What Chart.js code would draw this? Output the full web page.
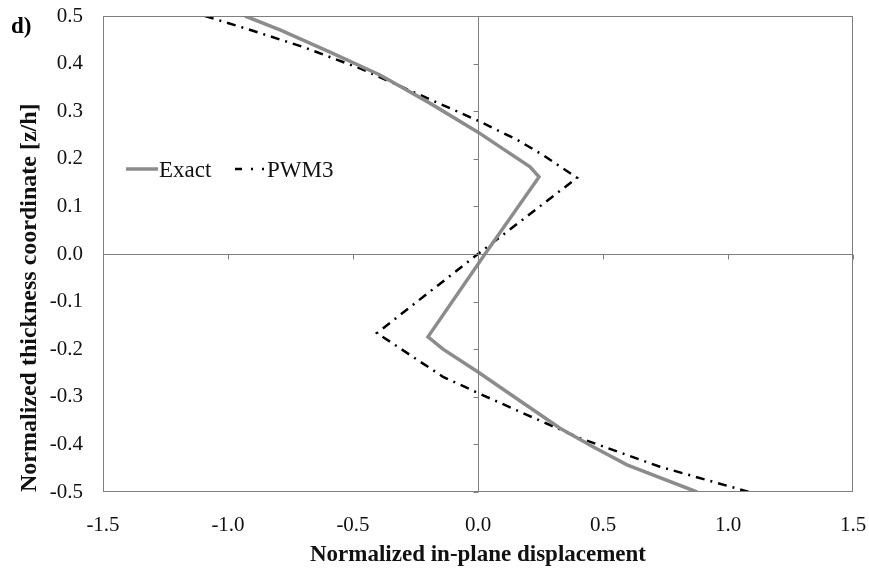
<!DOCTYPE html>
<html>
<head>
<meta charset="utf-8">
<script src="https://cdn.jsdelivr.net/npm/chart.js@4.4.0/dist/chart.umd.min.js"></script>
<style>
  body { margin: 0; background: #fff; }
  #wrap { width: 869px; height: 570px; }
</style>
</head>
<body>
<div id="wrap"><canvas id="chart" width="869" height="570"></canvas></div>
<script>
// values (x = displacement, y = z/h)
var exactX = [-0.932, -0.792, -0.592, -0.392, -0.196, 0.0, 0.088, 0.208, 0.244, 0.028, -0.2, -0.14, 0.0, 0.15, 0.328, 0.46, 0.596, 0.876];
var exactY = [0.5, 0.471, 0.424, 0.376, 0.318, 0.256, 0.225, 0.183, 0.162, 0.0, -0.174, -0.2, -0.248, -0.302, -0.366, -0.405, -0.443, -0.5];

var pwmX = [-1.092, -0.924, -0.70, -0.472, -0.24, 0.0, 0.156, 0.26, 0.396, 0.0, -0.404, -0.14, 0.0, 0.2, 0.408, 0.728, 1.085];
var pwmY = [0.5, 0.473, 0.435, 0.39, 0.336, 0.28, 0.24, 0.208, 0.16, 0.0, -0.166, -0.258, -0.292, -0.339, -0.387, -0.447, -0.5];

var seriesNames = ['Exact', 'PWM3'];
var xTicks = [-1.5, -1.0, -0.5, 0.0, 0.5, 1.0, 1.5];
var yTicks = [-0.5, -0.4, -0.3, -0.2, -0.1, 0.0, 0.1, 0.2, 0.3, 0.4, 0.5];

function toPoints(xs, ys) {
    var pts = [];
    for (var i = 0; i < xs.length; i++) pts.push({x: xs[i], y: ys[i]});
    return pts;
}

var serif = "'Times New Roman', 'Liberation Serif', serif";

// frame, zero axes with their tick marks, legend and panel label
var decorations = {
    id: 'decorations',
    afterDraw: function(chart) {
        var ctx = chart.ctx;
        var a = chart.chartArea;
        var xs = chart.scales.x, ys = chart.scales.y;
        ctx.save();
        ctx.strokeStyle = '#7f7f7f';
        ctx.lineWidth = 1;
        ctx.strokeRect(a.left + 0.5, a.top + 0.5, a.right - a.left - 1, a.bottom - a.top - 1);

        var x0 = Math.round(xs.getPixelForValue(0)) + 0.5;
        var y0 = Math.round(ys.getPixelForValue(0)) + 0.5;
        ctx.beginPath();
        ctx.moveTo(x0, a.top); ctx.lineTo(x0, a.bottom);
        ctx.moveTo(a.left, y0); ctx.lineTo(a.right, y0);
        yTicks.forEach(function(v) {
            var py = Math.round(ys.getPixelForValue(v)) + 0.5;
            ctx.moveTo(x0 - 5, py); ctx.lineTo(x0, py);
        });
        xTicks.forEach(function(v) {
            var px = Math.round(xs.getPixelForValue(v)) + 0.5;
            ctx.moveTo(px, y0); ctx.lineTo(px, y0 + 5);
        });
        ctx.stroke();

        // legend
        var ly = 169;
        var ds = chart.data.datasets;
        ctx.font = '23px ' + serif;
        ctx.textBaseline = 'middle';
        ctx.fillStyle = '#111';
        ctx.lineCap = 'butt';

        ctx.strokeStyle = ds[0].borderColor;
        ctx.lineWidth = ds[0].borderWidth;
        ctx.setLineDash([]);
        ctx.beginPath(); ctx.moveTo(126, ly); ctx.lineTo(158, ly); ctx.stroke();
        ctx.fillText(ds[0].label, 159, ly + 2);

        ctx.strokeStyle = ds[1].borderColor;
        ctx.lineWidth = ds[1].borderWidth;
        ctx.setLineDash([7, 9, 2, 9, 2, 100]);
        ctx.beginPath(); ctx.moveTo(235, ly); ctx.lineTo(266, ly); ctx.stroke();
        ctx.setLineDash([]);
        ctx.fillText(ds[1].label, 267, ly + 2);

        // panel label
        ctx.font = 'bold 23px ' + serif;
        ctx.fillStyle = '#000';
        ctx.fillText('d)', 11, 27);
        ctx.restore();
    }
};

new Chart(document.getElementById('chart').getContext('2d'), {
    type: 'scatter',
    data: {
        datasets: [{
            label: seriesNames[0],
            data: toPoints(exactX, exactY),
            showLine: true,
            borderColor: '#8c8c8c',
            borderWidth: 3.5,
            pointRadius: 0,
            tension: 0
        }, {
            label: seriesNames[1],
            data: toPoints(pwmX, pwmY),
            showLine: true,
            borderColor: '#000000',
            borderWidth: 2.5,
            borderDash: [9, 6, 2, 6],
            pointRadius: 0,
            tension: 0
        }]
    },
    options: {
        responsive: false,
        animation: false,
        devicePixelRatio: 1,
        layout: { padding: { top: 16, right: 16, left: 0, bottom: 0 } },
        plugins: {
            legend: { display: false },
            tooltip: { enabled: false }
        },
        scales: {
            x: {
                type: 'linear',
                min: -1.5,
                max: 1.5,
                afterBuildTicks: function(scale) {
                    scale.ticks = xTicks.map(function(v) { return {value: v}; });
                },
                afterFit: function(scale) {
                    scale.height = 78;
                    scale.paddingLeft = 0;
                    scale.paddingRight = 0;
                },
                grid: { display: false, drawTicks: false },
                border: { display: false },
                ticks: {
                    padding: 21,
                    color: '#111',
                    font: { family: serif, size: 21 },
                    callback: function(v) { return v.toFixed(1); }
                },
                title: {
                    display: true,
                    text: 'Normalized in-plane displacement',
                    color: '#111',
                    font: { family: serif, size: 23, weight: 'bold' },
                    padding: { top: 0, bottom: 1 }
                }
            },
            y: {
                type: 'linear',
                min: -0.5,
                max: 0.5,
                afterBuildTicks: function(scale) {
                    scale.ticks = yTicks.map(function(v) { return {value: v}; });
                },
                afterFit: function(scale) {
                    scale.width = 103;
                    scale.paddingTop = 0;
                    scale.paddingBottom = 0;
                },
                grid: { display: false, drawTicks: false },
                border: { display: false },
                ticks: {
                    padding: 20,
                    color: '#111',
                    font: { family: serif, size: 21 },
                    callback: function(v) { return v.toFixed(1); }
                },
                title: {
                    display: true,
                    align: 'start',
                    text: 'Normalized thickness coordinate [z/h]',
                    color: '#111',
                    font: { family: serif, size: 24, weight: 'bold' },
                    padding: { top: 15, bottom: 0 }
                }
            }
        }
    },
    plugins: [decorations]
});
</script>
</body>
</html>
